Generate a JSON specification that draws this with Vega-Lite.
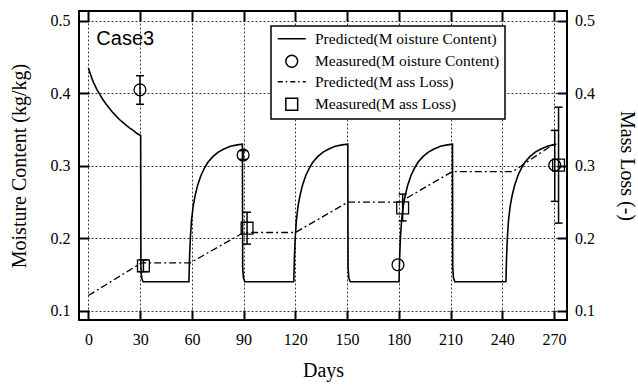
{
  "$schema": "https://vega.github.io/schema/vega-lite/v6.json",
  "width": 488,
  "height": 309,
  "autosize": {"type": "none"},
  "padding": {"left": 79, "top": 11, "right": 71, "bottom": 67},
  "background": "white",
  "config": {
    "view": {"stroke": "black", "strokeWidth": 2},
    "font": "Liberation Serif",
    "legend": {"strokeWidth": 1.5},
    "axis": {
      "labelFont": "Liberation Serif",
      "labelFontSize": 16,
      "labelColor": "black",
      "titleFont": "Liberation Serif",
      "titleFontSize": 20,
      "titleFontWeight": "normal",
      "titleColor": "black",
      "tickColor": "black",
      "tickWidth": 2,
      "tickSize": -10,
      "domain": false,
      "gridColor": "black",
      "gridDash": [2, 2],
      "gridWidth": 0.8,
      "gridOpacity": 1,
      "labelFlush": false,
      "labelOverlap": false
    }
  },
  "datasets": {
    "pmc": [
      {"day": 0, "mc": 0.435}, {"day": 1, "mc": 0.428}, {"day": 2, "mc": 0.421}, {"day": 3, "mc": 0.415},
      {"day": 4, "mc": 0.41}, {"day": 5, "mc": 0.405}, {"day": 6, "mc": 0.401}, {"day": 8, "mc": 0.393},
      {"day": 10, "mc": 0.386}, {"day": 12, "mc": 0.38}, {"day": 14, "mc": 0.374}, {"day": 16, "mc": 0.369},
      {"day": 18, "mc": 0.364}, {"day": 20, "mc": 0.36}, {"day": 22, "mc": 0.356}, {"day": 24, "mc": 0.352},
      {"day": 26, "mc": 0.349}, {"day": 28, "mc": 0.345}, {"day": 30.3, "mc": 0.342},
      {"day": 30.45, "mc": 0.16}, {"day": 30.9, "mc": 0.145}, {"day": 31.7, "mc": 0.14},
      {"day": 58.3, "mc": 0.14}, {"day": 58.6, "mc": 0.17}, {"day": 59.1, "mc": 0.2}, {"day": 59.8, "mc": 0.225},
      {"day": 60.8, "mc": 0.245}, {"day": 61.8, "mc": 0.258}, {"day": 63.3, "mc": 0.273}, {"day": 65.3, "mc": 0.287},
      {"day": 67.3, "mc": 0.297}, {"day": 69.3, "mc": 0.305}, {"day": 72.3, "mc": 0.313}, {"day": 75.3, "mc": 0.319},
      {"day": 78.3, "mc": 0.323}, {"day": 82.3, "mc": 0.327}, {"day": 86.3, "mc": 0.329}, {"day": 89.3, "mc": 0.33},
      {"day": 89.45, "mc": 0.16}, {"day": 89.9, "mc": 0.145}, {"day": 90.7, "mc": 0.14},
      {"day": 119.1, "mc": 0.14}, {"day": 119.4, "mc": 0.17}, {"day": 119.9, "mc": 0.2}, {"day": 120.6, "mc": 0.225},
      {"day": 121.6, "mc": 0.245}, {"day": 122.6, "mc": 0.258}, {"day": 124.1, "mc": 0.273}, {"day": 126.1, "mc": 0.287},
      {"day": 128.1, "mc": 0.297}, {"day": 130.1, "mc": 0.305}, {"day": 133.1, "mc": 0.313}, {"day": 136.1, "mc": 0.319},
      {"day": 139.1, "mc": 0.323}, {"day": 143.1, "mc": 0.327}, {"day": 147.1, "mc": 0.329}, {"day": 150.4, "mc": 0.33},
      {"day": 150.55, "mc": 0.16}, {"day": 151, "mc": 0.145}, {"day": 151.8, "mc": 0.14},
      {"day": 180.1, "mc": 0.14}, {"day": 180.4, "mc": 0.17}, {"day": 180.9, "mc": 0.2}, {"day": 181.6, "mc": 0.225},
      {"day": 182.6, "mc": 0.245}, {"day": 183.6, "mc": 0.258}, {"day": 185.1, "mc": 0.273}, {"day": 187.1, "mc": 0.287},
      {"day": 189.1, "mc": 0.297}, {"day": 191.1, "mc": 0.305}, {"day": 194.1, "mc": 0.313}, {"day": 197.1, "mc": 0.319},
      {"day": 200.1, "mc": 0.323}, {"day": 204.1, "mc": 0.327}, {"day": 208.1, "mc": 0.329}, {"day": 211.1, "mc": 0.33},
      {"day": 211.25, "mc": 0.16}, {"day": 211.7, "mc": 0.145}, {"day": 212.5, "mc": 0.14},
      {"day": 242.1, "mc": 0.14}, {"day": 242.4, "mc": 0.17}, {"day": 242.9, "mc": 0.2}, {"day": 243.6, "mc": 0.225},
      {"day": 244.6, "mc": 0.245}, {"day": 245.6, "mc": 0.258}, {"day": 247.1, "mc": 0.273}, {"day": 249.1, "mc": 0.287},
      {"day": 251.1, "mc": 0.297}, {"day": 253.1, "mc": 0.305}, {"day": 256.1, "mc": 0.313}, {"day": 259.1, "mc": 0.319},
      {"day": 262.1, "mc": 0.323}, {"day": 266.1, "mc": 0.327}, {"day": 269.5, "mc": 0.329}, {"day": 271.3, "mc": 0.33}
    ],
    "pml": [
      {"day": 0, "ml": 0.121}, {"day": 30.7, "ml": 0.166}, {"day": 59, "ml": 0.166}, {"day": 90, "ml": 0.208},
      {"day": 120, "ml": 0.208}, {"day": 150.5, "ml": 0.25}, {"day": 180.5, "ml": 0.25}, {"day": 211, "ml": 0.292},
      {"day": 246, "ml": 0.292}, {"day": 271, "ml": 0.332}
    ],
    "meas": [
      {"series": "Measured(M oisture Content)", "day": 29.9, "value": 0.405, "lo": 0.385, "hi": 0.4245},
      {"series": "Measured(M oisture Content)", "day": 89.7, "value": 0.315, "lo": 0.309, "hi": 0.321},
      {"series": "Measured(M oisture Content)", "day": 179.5, "value": 0.1635, "lo": null, "hi": null},
      {"series": "Measured(M oisture Content)", "day": 270.4, "value": 0.301, "lo": 0.251, "hi": 0.349},
      {"series": "Measured(M ass Loss)", "day": 31.9, "value": 0.162, "lo": 0.154, "hi": 0.17},
      {"series": "Measured(M ass Loss)", "day": 92, "value": 0.214, "lo": 0.192, "hi": 0.236},
      {"series": "Measured(M ass Loss)", "day": 182.2, "value": 0.242, "lo": 0.224, "hi": 0.261},
      {"series": "Measured(M ass Loss)", "day": 272.6, "value": 0.301, "lo": 0.221, "hi": 0.381}
    ]
  },
  "layer": [
    {
      "data": {"name": "pmc"},
      "mark": {"type": "line", "color": "black", "strokeWidth": 1.6},
      "encoding": {
        "x": {
          "field": "day", "type": "quantitative",
          "scale": {"domain": [-5.45, 277.5], "nice": false, "zero": false},
          "axis": {"orient": "bottom", "title": "Days", "values": [0, 30, 60, 90, 120, 150, 180, 210, 240, 270], "grid": true, "labelPadding": 21.5, "titlePadding": 13}
        },
        "y": {
          "field": "mc", "type": "quantitative",
          "scale": {"domain": [0.0872, 0.5138], "nice": false, "zero": false},
          "axis": {"orient": "left", "title": "Moisture Content (kg/kg)", "values": [0.1, 0.2, 0.3, 0.4, 0.5], "format": ".1f", "grid": true, "labelPadding": 19, "titlePadding": 21}
        }
      }
    },
    {
      "data": {"name": "pml"},
      "mark": {"type": "line", "color": "black", "strokeWidth": 1.3, "strokeDash": [7, 3, 2, 3]},
      "encoding": {
        "x": {
          "field": "day", "type": "quantitative",
          "scale": {"domain": [-5.45, 277.5], "nice": false, "zero": false},
          "axis": {"orient": "top", "title": null, "labels": false, "values": [0, 30, 60, 90, 120, 150, 180, 210, 240, 270], "grid": false}
        },
        "y": {
          "field": "ml", "type": "quantitative",
          "scale": {"domain": [0.0872, 0.5138], "nice": false, "zero": false},
          "axis": {"orient": "right", "title": "Mass Loss (-)", "values": [0.1, 0.2, 0.3, 0.4, 0.5], "format": ".1f", "grid": false, "labelPadding": 17.5, "titlePadding": 22}
        }
      }
    },
    {
      "data": {"name": "meas"},
      "transform": [{"filter": "isValid(datum.lo)"}],
      "mark": {"type": "rule", "color": "black", "strokeWidth": 1.5},
      "encoding": {
        "x": {"field": "day", "type": "quantitative", "axis": null},
        "y": {"field": "lo", "type": "quantitative", "axis": null},
        "y2": {"field": "hi"}
      }
    },
    {
      "data": {"name": "meas"},
      "transform": [{"filter": "isValid(datum.lo)"}],
      "mark": {"type": "tick", "orient": "horizontal", "color": "black", "size": 8, "thickness": 1.5, "opacity": 1},
      "encoding": {
        "x": {"field": "day", "type": "quantitative", "axis": null},
        "y": {"field": "lo", "type": "quantitative", "axis": null}
      }
    },
    {
      "data": {"name": "meas"},
      "transform": [{"filter": "isValid(datum.hi)"}],
      "mark": {"type": "tick", "orient": "horizontal", "color": "black", "size": 8, "thickness": 1.5, "opacity": 1},
      "encoding": {
        "x": {"field": "day", "type": "quantitative", "axis": null},
        "y": {"field": "hi", "type": "quantitative", "axis": null}
      }
    },
    {
      "data": {"name": "meas"},
      "mark": {"type": "point", "filled": false, "color": "black", "strokeWidth": 1.3, "opacity": 1, "size": 140},
      "encoding": {
        "x": {"field": "day", "type": "quantitative", "axis": null},
        "y": {"field": "value", "type": "quantitative", "axis": null},
        "shape": {
          "field": "series", "type": "nominal",
          "scale": {
            "domain": ["Predicted(M oisture Content)", "Measured(M oisture Content)", "Predicted(M ass Loss)", "Measured(M ass Loss)"],
            "range": [
              "M-2.37,0H2.37",
              "circle",
              "M-2.37,0H-1.52M-1.01,0H-0.76M-0.25,0H0.59M1.1,0H1.35M1.86,0H2.37",
              "square"
            ]
          },
          "legend": {
            "orient": "none",
            "legendX": 192,
            "legendY": 15,
            "title": null,
            "padding": 5,
            "strokeColor": "black",
            "fillColor": "white",
            "labelFont": "Liberation Serif",
            "labelFontSize": 15.5,
            "labelColor": "black",
            "labelLimit": 400,
            "labelOffset": 15.5,
            "symbolOffset": 8,
            "symbolSize": 140,
            "symbolStrokeColor": "black",
            "symbolFillColor": "transparent",
            "symbolStrokeWidth": 1.5,
            "rowPadding": 3.5,
            "columnPadding": 0
          }
        }
      }
    },
    {
      "data": {"values": [{"day": 4.6, "value": 0.4674, "label": "Case3"}]},
      "mark": {"type": "text", "align": "left", "baseline": "alphabetic", "font": "Liberation Sans", "fontSize": 20, "color": "black"},
      "encoding": {
        "x": {"field": "day", "type": "quantitative", "axis": null},
        "y": {"field": "value", "type": "quantitative", "axis": null},
        "text": {"field": "label"}
      }
    }
  ],
  "resolve": {"axis": {"x": "independent", "y": "independent"}}
}
